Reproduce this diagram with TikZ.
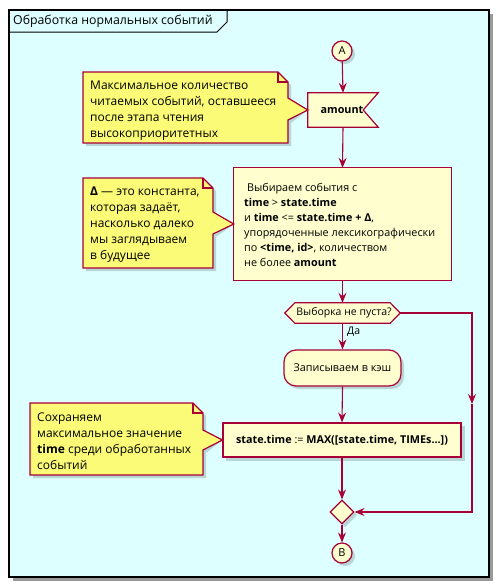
\documentclass[tikz,border=0pt]{standalone}
\usepackage{fontspec}
\setmainfont{Open Sans}
\usetikzlibrary{arrows.meta,shapes.geometric}
\definecolor{bgc}{HTML}{DDFFFF}
\definecolor{actfill}{HTML}{FEFECE}
\definecolor{lncol}{HTML}{A80036}
\definecolor{notefill}{HTML}{FBFB77}
\begin{document}
\begin{tikzpicture}[x=1pt,y=-1pt,
  txt/.style={font=\fontsize{12}{16}\selectfont},
  acttxt/.style={font=\fontsize{10.8}{15}\selectfont},
  arr/.style={draw=lncol,line width=1.1pt,-{Stealth[length=10pt,width=8pt,inset=3.5pt]}},
  shape line/.style={draw=lncol,line width=1.2pt},
  shadowfill/.style={fill=black,opacity=0.16},
  circnode/.style={circle,minimum size=20pt,inner sep=0pt,draw=lncol,fill=actfill,line width=1.2pt,font=\fontsize{11}{13}\selectfont},
  boxnode/.style={inner sep=0pt,acttxt}
]
\useasboundingbox (0,0) rectangle (499,587);
\fill[white] (0,0) rectangle (499,587);
% frame
\fill[black!40] (13,14) rectangle (493,581);
\draw[line width=1.5pt,fill=bgc] (9,10) rectangle (489,577);
\draw[line width=1pt] (9,32) -- (217,32) -- (227,22) -- (227,10);
\node[anchor=west,inner sep=0pt,font=\fontsize{12.3}{16}\selectfont] (title) at (13,21) {Обработка нормальных событий};

% start
\fill[shadowfill] (345,54) circle (10);
\node[circnode] (A) at (342,51) {A};

% amount (receive signal shape)
\node[boxnode,minimum width=70pt,minimum height=34pt] (amt) at (343,110) {};
\fill[shadowfill,shift={(3,3)}] (amt.north west) -- (amt.north east) -- ([xshift=-15pt]amt.east) -- (amt.south east) -- (amt.south west) -- cycle;
\draw[shape line,fill=actfill] (amt.north west) -- (amt.north east) -- ([xshift=-15pt]amt.east) -- (amt.south east) -- (amt.south west) -- cycle;
\node[boxnode,font=\fontsize{10.8}{15}\selectfont\bfseries] (amtlabel) at (342,110) {amount};

% selection box
\node[boxnode,minimum width=217pt,minimum height=112pt] (sel) at (342.5,224) {};
\fill[shadowfill,shift={(3,3)}] (sel.north west) rectangle (sel.south east);
\draw[shape line,fill=actfill] (sel.north west) rectangle (sel.south east);
\node[anchor=west,align=left,inner sep=0pt,acttxt] (seltext) at (244,225) {\ Выбираем события с\\
\textbf{time} > \textbf{state.time}\\
и \textbf{time} <= \textbf{state.time + Δ},\\
упорядоченные лексикографически\\
по \textbf{<time, id>}, количеством\\
не более \textbf{amount}};

% decision
\node[boxnode,minimum width=115pt,minimum height=20pt] (dec) at (342.5,313) {};
\fill[shadowfill,shift={(3,3)}] (dec.west) -- ([xshift=10pt]dec.north west) -- ([xshift=-10pt]dec.north east) -- (dec.east) -- ([xshift=-10pt]dec.south east) -- ([xshift=10pt]dec.south west) -- cycle;
\draw[shape line,fill=actfill] (dec.west) -- ([xshift=10pt]dec.north west) -- ([xshift=-10pt]dec.north east) -- (dec.east) -- ([xshift=-10pt]dec.south east) -- ([xshift=10pt]dec.south west) -- cycle;
\node[inner sep=0pt,font=\fontsize{10.5}{13}\selectfont] (dectext) at (344,313) {Выборка не пуста?};
\node[inner sep=0pt,anchor=west,font=\fontsize{10.5}{13}\selectfont] (yes) at (347,332) {Да};

% write to cache
\fill[shadowfill,rounded corners=12pt] (287,353) rectangle (404,389);
\node[draw=lncol,fill=actfill,line width=1.2pt,rounded corners=12pt,minimum width=117pt,minimum height=36pt,inner sep=0pt,acttxt] (rec) at (342.5,368) {Записываем в кэш};

% state.time box
\fill[shadowfill] (226,426) rectangle (465,461);
\node[draw=lncol,fill=actfill,line width=1.2pt,minimum width=238pt,minimum height=34pt,inner sep=0pt,acttxt] (st) at (342,440) {\textbf{state.time} := \textbf{MAX([state.time, TIMEs...])}};

% merge
\fill[shadowfill] (345,503) -- (357,515) -- (345,527) -- (333,515) -- cycle;
\node[diamond,draw=lncol,fill=actfill,line width=1.2pt,minimum size=24pt,inner sep=0pt] (mrg) at (342,512) {};

% end
\fill[shadowfill] (345,556) circle (10);
\node[circnode] (B) at (342,553) {B};

% connectors
\draw[arr] (A) -- (amt.north);
\draw[arr] (amt.south) -- (sel.north);
\draw[arr] (sel.south) -- (dec.north);
\draw[arr] (dec.south) -- (rec.north);
\draw[arr] (rec.south) -- (st.north);
\draw[arr] (st.south) -- (mrg.north);
\draw[arr] (mrg.south) -- (B.north);
\coordinate (c1) at (472,313);
\coordinate (cm) at (472,404);
\coordinate (c2) at (472,512);
\draw[arr] (dec.east) -- (c1) -- (cm);
\draw[arr] (cm) -- (c2) -- (mrg.east);

% note 1
\fill[shadowfill,shift={(3,3)}] (83,72) -- (278,72) -- (288,82) -- (288,98) -- (amt.west) -- (288,120) -- (288,143) -- (83,143) -- cycle;
\draw[shape line,fill=notefill] (83,72) -- (278,72) -- (288,82) -- (288,98) -- (amt.west) -- (288,120) -- (288,143) -- (83,143) -- cycle;
\draw[shape line] (278,72) -- (278,82) -- (288,82);
\node[txt,anchor=west,align=left,inner sep=0pt] (n1) at (90,111) {Максимальное количество\\читаемых событий, оставшееся\\после этапа чтения\\высокоприоритетных};

% note 2
\fill[shadowfill,shift={(3,3)}] (83,178) -- (203,178) -- (213,188) -- (213,212) -- (sel.west) -- (213,234) -- (213,268) -- (83,268) -- cycle;
\draw[shape line,fill=notefill] (83,178) -- (203,178) -- (213,188) -- (213,212) -- (sel.west) -- (213,234) -- (213,268) -- (83,268) -- cycle;
\draw[shape line] (203,178) -- (203,188) -- (213,188);
\node[txt,anchor=west,align=left,inner sep=0pt] (n2) at (90,225) {\textbf{Δ} — это константа,\\которая задаёт,\\насколько далеко\\мы заглядываем\\в будущее};

% note 3
\fill[shadowfill,shift={(3,3)}] (30,403) -- (193,403) -- (203,413) -- (203,430) -- (st.west) -- (203,450) -- (203,475) -- (30,475) -- cycle;
\draw[shape line,fill=notefill] (30,403) -- (193,403) -- (203,413) -- (203,430) -- (st.west) -- (203,450) -- (203,475) -- (30,475) -- cycle;
\draw[shape line] (193,403) -- (193,413) -- (203,413);
\node[txt,anchor=west,align=left,inner sep=0pt] (n3) at (37,441) {Сохраняем\\максимальное значение\\\textbf{time} среди обработанных\\событий};
\end{tikzpicture}
\end{document}
